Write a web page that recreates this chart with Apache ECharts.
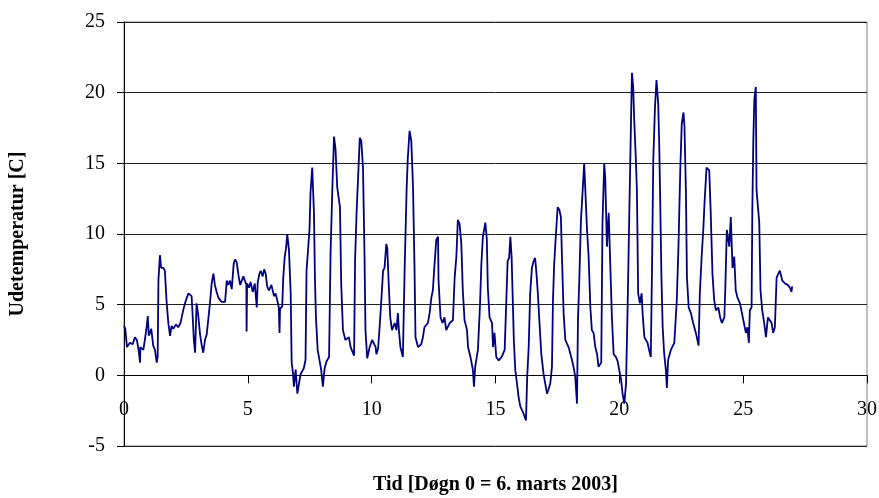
<!DOCTYPE html>
<html>
<head>
<meta charset="utf-8">
<script src="https://cdn.jsdelivr.net/npm/echarts@6/dist/echarts.min.js"></script>
<style>
  html, body { margin: 0; padding: 0; background: #fff; }
  #tempchart { width: 879px; height: 498px; }
</style>
</head>
<body>
<div id="tempchart"></div>
<script>
// akse-inddeling
var xTicks = [0, 5, 10, 15, 20, 25, 30];
var yTicks = [-5, 0, 5, 10, 15, 20, 25];

// udetemperatur aflæst fra kurven: [døgn, grader C]
var periode1 = [
    [0.00, 3.5], [0.05, 3.3], [0.11, 3.3], [0.12, 2.0], [0.24, 2.3], [0.35, 2.2], [0.44, 2.7], [0.52, 2.5],
    [0.58, 1.9], [0.65, 0.9], [0.66, 2.0], [0.78, 1.8], [0.85, 2.6], [0.92, 3.5], [0.96, 4.2], [1.00, 2.8],
    [1.05, 3.0], [1.10, 3.3], [1.18, 2.1], [1.25, 1.8], [1.32, 0.9], [1.36, 1.3], [1.39, 6.7], [1.45, 8.5],
    [1.50, 7.6], [1.59, 7.6], [1.65, 7.4], [1.72, 5.2], [1.79, 3.7], [1.86, 2.8], [1.92, 3.5], [1.99, 3.3],
    [2.10, 3.6], [2.19, 3.4], [2.28, 3.7], [2.39, 4.6], [2.48, 5.2], [2.60, 5.8], [2.73, 5.6], [2.77, 4.3],
    [2.82, 2.5], [2.87, 1.6], [2.93, 5.1], [3.00, 4.2], [3.07, 2.9], [3.13, 2.2], [3.20, 1.6], [3.27, 2.5],
    [3.34, 2.9], [3.40, 3.9], [3.47, 5.1], [3.54, 6.5], [3.61, 7.2], [3.67, 6.4], [3.74, 5.9], [3.81, 5.5],
    [3.94, 5.2], [4.08, 5.2], [4.15, 6.7], [4.21, 6.4], [4.28, 6.7], [4.35, 6.1], [4.43, 7.9], [4.48, 8.2],
    [4.55, 8.0], [4.62, 7.1], [4.69, 6.4], [4.75, 6.3], [4.82, 7.0], [4.90, 6.6], [4.94, 6.4], [4.95, 3.1],
    [4.97, 6.5]
];
var periode2 = [
    [5.05, 6.2], [5.11, 6.6], [5.20, 5.9], [5.28, 6.5], [5.36, 4.8], [5.40, 6.6], [5.47, 7.2], [5.52, 7.4],
    [5.60, 7.0], [5.66, 7.5], [5.72, 7.2], [5.78, 6.3], [5.85, 6.0], [5.95, 6.4], [6.06, 5.6], [6.12, 5.8],
    [6.19, 5.3], [6.25, 4.8], [6.28, 3.0], [6.30, 4.7], [6.39, 4.9], [6.43, 6.9], [6.49, 8.4], [6.55, 9.1],
    [6.59, 10.0], [6.66, 8.9], [6.73, 5.8], [6.77, 0.9], [6.82, 0.2], [6.86, -0.8], [6.93, 0.4], [7.00, -1.3],
    [7.06, -1.4], [7.13, 0.1], [7.20, 0.3], [7.26, 0.5], [7.33, 1.1], [7.37, 7.4], [7.44, 9.1], [7.49, 10.3],
    [7.53, 12.9], [7.60, 14.7], [7.64, 14.7], [7.67, 11.5], [7.71, 6.8], [7.75, 4.1], [7.82, 1.8], [7.87, 1.3],
    [7.96, 0.4], [8.03, -0.8], [8.10, 0.5], [8.18, 1.0], [8.28, 1.3], [8.34, 8.6], [8.41, 13.1], [8.48, 16.9],
    [8.54, 16.0], [8.61, 13.3], [8.72, 11.9], [8.77, 6.5], [8.84, 3.2], [8.94, 2.5], [9.08, 2.7], [9.15, 2.0],
    [9.29, 1.4], [9.33, 8.1], [9.39, 11.5], [9.46, 14.3], [9.52, 16.8], [9.58, 16.6], [9.65, 14.7], [9.71, 8.6],
    [9.75, 3.2], [9.82, 1.2], [9.92, 2.0]
];
var periode3 = [
    [10.02, 2.5], [10.16, 2.0], [10.19, 1.5], [10.26, 1.9], [10.32, 3.4], [10.39, 5.3], [10.46, 7.4], [10.52, 7.6],
    [10.59, 9.3], [10.63, 9.0], [10.70, 6.0], [10.75, 4.1], [10.82, 3.2], [10.93, 3.7], [11.00, 3.2], [11.06, 4.4],
    [11.10, 3.2], [11.16, 2.0], [11.26, 1.3], [11.33, 7.4], [11.41, 13.1], [11.46, 15.4], [11.53, 17.3], [11.60, 16.6],
    [11.67, 13.3], [11.73, 7.6], [11.77, 2.7], [11.87, 2.0], [12.00, 2.2], [12.07, 2.7], [12.13, 3.4], [12.27, 3.7],
    [12.34, 4.4], [12.41, 5.5], [12.47, 6.0], [12.54, 7.9], [12.61, 9.6], [12.68, 9.8], [12.70, 6.7], [12.78, 4.1],
    [12.86, 3.7], [12.94, 4.1], [13.01, 3.2], [13.15, 3.7], [13.28, 3.9], [13.35, 6.9], [13.42, 8.4], [13.48, 11.0],
    [13.55, 10.7], [13.62, 9.3], [13.68, 6.0], [13.75, 3.9], [13.85, 3.2], [13.89, 2.0], [13.99, 1.3], [14.09, 0.35],
    [14.13, -0.8], [14.18, 0.6], [14.29, 1.8], [14.37, 4.8], [14.43, 7.9], [14.49, 9.8], [14.59, 10.8], [14.65, 9.6],
    [14.69, 6.2], [14.76, 4.1], [14.86, 3.7], [14.90, 2.0], [14.96, 3.0]
];
var periode4 = [
    [15.03, 1.3], [15.13, 1.06], [15.25, 1.3], [15.37, 1.8], [15.42, 4.4], [15.49, 8.1], [15.55, 8.3], [15.60, 9.8],
    [15.65, 8.4], [15.69, 5.8], [15.74, 2.5], [15.80, 0.35], [15.87, -0.6], [15.93, -1.5], [16.00, -2.2], [16.13, -2.7],
    [16.23, -3.2], [16.28, -0.1], [16.34, 2.0], [16.40, 5.8], [16.47, 7.6], [16.54, 8.1], [16.60, 8.3], [16.65, 7.3],
    [16.71, 5.8], [16.77, 3.9], [16.85, 1.5], [16.94, 0.1], [17.01, -0.6], [17.08, -1.3], [17.14, -1.0], [17.21, -0.6],
    [17.28, 0.6], [17.32, 5.3], [17.37, 7.9], [17.44, 10.0], [17.51, 11.9], [17.58, 11.7], [17.64, 11.2], [17.68, 8.6],
    [17.75, 4.4], [17.82, 2.5], [17.95, 2.0], [18.09, 1.06], [18.15, 0.6], [18.22, -0.1], [18.29, -2.0], [18.33, 3.9],
    [18.38, 6.5], [18.45, 11.0], [18.52, 13.1], [18.58, 15.0], [18.62, 13.4], [18.69, 10.5], [18.76, 8.4], [18.83, 4.8],
    [18.89, 3.2], [18.96, 3.0], [19.03, 2.0], [19.10, 1.5], [19.16, 0.6], [19.27, 0.9], [19.32, 10.8], [19.39, 15.0],
    [19.43, 14.0], [19.50, 9.1], [19.57, 11.5], [19.63, 11.5], [19.70, 4.1], [19.77, 1.5], [19.86, 1.3], [19.93, 1.0]
];
var periode5 = [
    [20.00, 0.35], [20.07, -0.3], [20.13, -1.3], [20.20, -2.0], [20.27, -0.6], [20.33, 4.4], [20.40, 11.2], [20.47, 17.8],
    [20.51, 21.4], [20.56, 20.4], [20.60, 18.1], [20.66, 15.6], [20.71, 13.1], [20.76, 5.8], [20.83, 5.1], [20.90, 5.8],
    [20.94, 4.4], [21.01, 2.7], [21.07, 2.5], [21.14, 2.3], [21.20, 1.8], [21.27, 1.3], [21.32, 7.6], [21.37, 15.2],
    [21.44, 19.0], [21.50, 20.9], [21.57, 19.2], [21.61, 16.4], [21.65, 12.4], [21.70, 6.9], [21.75, 3.4], [21.81, 1.55],
    [21.88, 0.35], [21.92, -0.9], [21.97, 1.1], [22.08, 1.8], [22.22, 2.3], [22.32, 5.3], [22.39, 9.3], [22.46, 14.5],
    [22.52, 17.8], [22.59, 18.6], [22.63, 17.6], [22.69, 12.9], [22.73, 6.9], [22.80, 4.8], [22.89, 4.4], [22.98, 3.7],
    [23.09, 3.0], [23.20, 2.1], [23.25, 5.8], [23.33, 8.6], [23.39, 10.3], [23.44, 12.2], [23.52, 14.7], [23.63, 14.5],
    [23.69, 11.5], [23.76, 7.2], [23.83, 5.3], [23.90, 4.6], [24.00, 4.8], [24.07, 4.1], [24.14, 3.7], [24.24, 4.1],
    [24.28, 6.2], [24.34, 10.3], [24.44, 9.1], [24.50, 11.2], [24.57, 7.6], [24.64, 8.4], [24.70, 6.0], [24.77, 5.5],
    [24.87, 5.1], [24.95, 4.4]
];
var periode6 = [
    [25.03, 3.7], [25.11, 3.0], [25.17, 3.4], [25.23, 2.3], [25.27, 4.6], [25.34, 4.8], [25.37, 11.7], [25.41, 16.6],
    [25.45, 19.5], [25.51, 20.4], [25.54, 13.1], [25.61, 13.1], [25.65, 10.8], [25.70, 6.0], [25.77, 4.6], [25.85, 3.7],
    [25.92, 2.7], [26.00, 4.1], [26.08, 4.1], [26.15, 3.7], [26.21, 3.0], [26.28, 3.4], [26.35, 6.9], [26.42, 7.2],
    [26.48, 7.4], [26.58, 6.7], [26.69, 6.5], [26.80, 6.4], [26.89, 6.2], [26.95, 5.9], [26.98, 6.3]
];

var udeTemp = periode1.concat(periode2, periode3, periode4, periode5, periode6);

var serif = '"Liberation Serif", "Times New Roman", serif';

var tempChart = echarts.init(document.getElementById('tempchart'));

var option_temp = {
    animation: false,
    backgroundColor: '#fff',
    grid: {
        left: 124,
        right: 12,
        top: 22,
        bottom: 52,
        containLabel: false,
        outerBoundsMode: 'none',
        show: true,
        borderColor: '#808080',
        borderWidth: 1
    },
    xAxis: {
        type: 'value',
        min: xTicks[0],
        max: xTicks[xTicks.length - 1],
        interval: 5,
        name: 'Tid [Døgn 0 = 6. marts 2003]',
        nameLocation: 'middle',
        nameGap: 29,
        nameTextStyle: { fontFamily: serif, fontSize: 20, fontWeight: 'bold', color: '#000' },
        axisLine: { onZero: true, lineStyle: { color: '#000', width: 1 } },
        axisTick: { show: true, inside: false, length: 8, lineStyle: { color: '#000' } },
        // etiketterne sidder under nul-linjen, ikke ved bunden
        axisLabel: { margin: -46, fontFamily: serif, fontSize: 20, color: '#000' },
        splitLine: { show: false }
    },
    yAxis: {
        type: 'value',
        min: yTicks[0],
        max: yTicks[yTicks.length - 1],
        interval: 5,
        name: 'Udetemperatur [C]',
        nameLocation: 'middle',
        nameRotate: 90,
        nameGap: 96,
        nameTextStyle: { fontFamily: serif, fontSize: 20, fontWeight: 'bold', color: '#000' },
        axisLine: { show: true, lineStyle: { color: '#000', width: 1 } },
        axisTick: { show: true, length: 7, lineStyle: { color: '#000' } },
        axisLabel: { margin: 19, fontFamily: serif, fontSize: 20, color: '#000' },
        splitLine: { show: true, lineStyle: { color: '#222', width: 1 } }
    },
    series: [
        {
            type: 'line',
            data: udeTemp,
            showSymbol: false,
            smooth: false,
            lineStyle: { color: '#000080', width: 1.8 },
            itemStyle: { color: '#000080' }
        }
    ]
};

tempChart.setOption(option_temp);
</script>
</body>
</html>
